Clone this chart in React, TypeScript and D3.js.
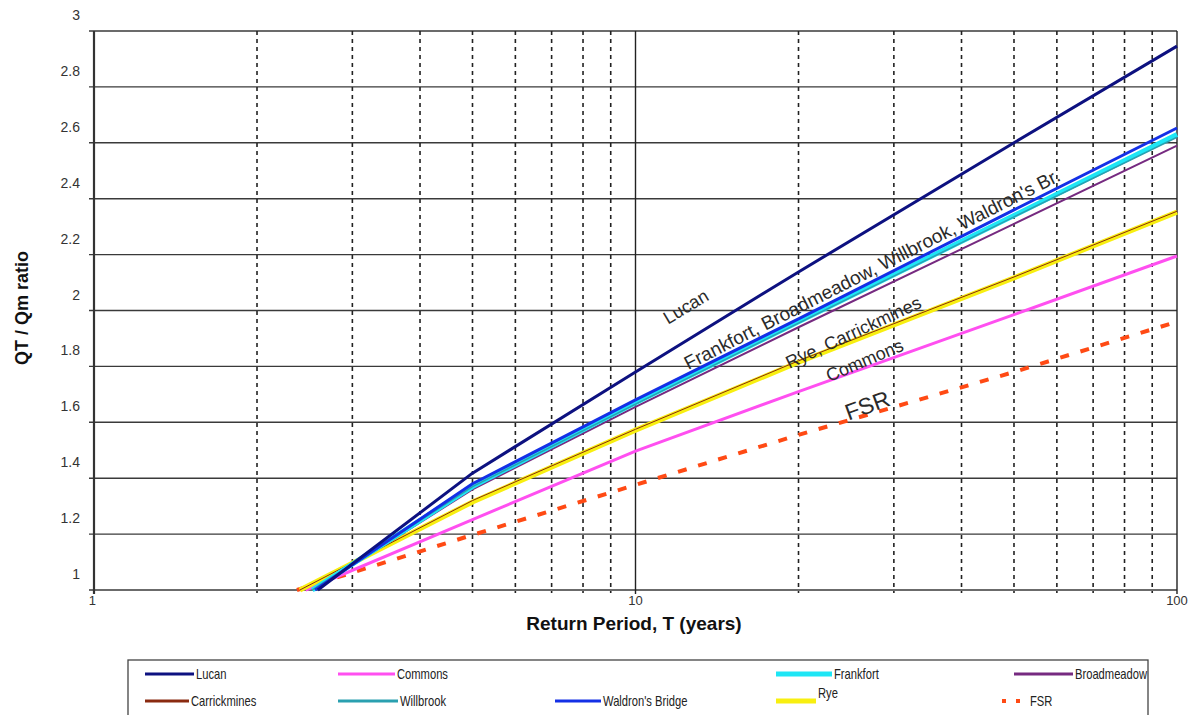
import React from "react";
import * as d3 from "d3";

// ---- data ----
const returnPeriods = [5, 10, 20, 50, 100];
const seriesNames = ["Lucan", "Commons", "Frankfort", "Broadmeadow", "Carrickmines", "Willbrook", "Waldron's Bridge", "Rye", "FSR"];
const startPeriods = [2.59, 2.46, 2.53, 2.54, 2.4, 2.53, 2.56, 2.4, 2.37];
const lucan = [1.418, 1.78, 2.138, 2.6, 2.946];
const commons = [1.252, 1.497, 1.71, 1.985, 2.195];
const frankfort = [1.37, 1.67, 1.96, 2.34, 2.63];
const broadmeadow = [1.36, 1.655, 1.94, 2.31, 2.59];
const carrickmines = [1.32, 1.575, 1.82, 2.12, 2.355];
const willbrook = [1.37, 1.665, 1.955, 2.335, 2.62];
const waldrons = [1.38, 1.68, 1.97, 2.36, 2.653];
const rye = [1.315, 1.572, 1.815, 2.117, 2.352];
const fsr = [1.197, 1.376, 1.555, 1.78, 1.96];
const seriesValues = [lucan, commons, frankfort, broadmeadow, carrickmines, willbrook, waldrons, rye, fsr];

const yTicks = [1, 1.2, 1.4, 1.6, 1.8, 2, 2.2, 2.4, 2.6, 2.8, 3];
const xMajor = [1, 10, 100];
const xMinor = [2, 3, 4, 5, 6, 7, 8, 9, 20, 30, 40, 50, 60, 70, 80, 90];

// styles
const styles: Record<string, { color: string; width: number; dash?: string }> = {
  Lucan: { color: "#0d1180", width: 3 },
  Commons: { color: "#ff4ff0", width: 3 },
  Frankfort: { color: "#1ee6f5", width: 5 },
  Broadmeadow: { color: "#762a80", width: 2 },
  Carrickmines: { color: "#8a2a10", width: 1 },
  Willbrook: { color: "#2aa0b0", width: 1.5 },
  "Waldron's Bridge": { color: "#1430e6", width: 3 },
  Rye: { color: "#f8ef10", width: 5 },
  FSR: { color: "#ff4a14", width: 4, dash: "9,12" },
};
const drawOrder = ["FSR", "Commons", "Rye", "Carrickmines", "Broadmeadow", "Frankfort", "Willbrook", "Waldron's Bridge", "Lucan"];

export default function App() {
  const x = d3.scaleLog().domain([1, 100]).range([94, 1177]);
  const y = d3.scaleLinear().domain([1, 3]).range([590, 31]);
  const line = d3
    .line<[number, number]>()
    .x((d) => x(d[0]))
    .y((d) => y(d[1]));

  const seriesPts = (name: string): [number, number][] => {
    const i = seriesNames.indexOf(name);
    const pts: [number, number][] = [[startPeriods[i], 1]];
    returnPeriods.forEach((t, k) => pts.push([t, seriesValues[i][k]]));
    return pts;
  };

  const font = "Arial, 'Liberation Sans', sans-serif";

  const legendItems = [
    { name: "Lucan", lx: 145, tx: 196, row: 0 },
    { name: "Commons", lx: 338, tx: 397, row: 0 },
    { name: "Frankfort", lx: 776, tx: 834, row: 0 },
    { name: "Broadmeadow", lx: 1014, tx: 1075, row: 0 },
    { name: "Carrickmines", lx: 145, tx: 191, row: 1 },
    { name: "Willbrook", lx: 338, tx: 400, row: 1 },
    { name: "Waldron's Bridge", lx: 555, tx: 603, row: 1 },
    { name: "Rye", lx: 776, tx: 818, row: 1 },
    { name: "FSR", lx: 1002, tx: 1030, row: 1 },
  ];

  return (
    <svg width={1194} height={715} style={{ position: "absolute", left: 0, top: 0, background: "#fff" }} fontFamily={font}>
      {/* horizontal grid */}
      {yTicks.map((v) => (
        <line key={"h" + v} x1={x(1) - 5} x2={x(100)} y1={y(v)} y2={y(v)} stroke="#3a3a3a" strokeWidth={1.4} />
      ))}
      {/* minor vertical dashed grid */}
      {xMinor.map((t) => (
        <line key={"m" + t} x1={x(t)} x2={x(t)} y1={y(3)} y2={y(1) + 3} stroke="#222" strokeWidth={1.6} strokeDasharray="4,4" />
      ))}
      {/* major vertical */}
      {xMajor.map((t) => (
        <line key={"M" + t} x1={x(t)} x2={x(t)} y1={y(3)} y2={y(1) + 4} stroke={t === 1 ? "#333" : "#222"} strokeWidth={t === 1 ? 2.2 : 1.4} />
      ))}
      {/* y labels */}
      {yTicks.map((v) => (
        <text key={"yl" + v} x={80} y={y(v) - 11} textAnchor="end" fontSize={14} fill="#333">
          {d3.format("~g")(v)}
        </text>
      ))}
      {/* x labels */}
      {xMajor.map((t) => (
        <text key={"xl" + t} x={x(t)} y={605} textAnchor={t === 1 ? "end" : "middle"} fontSize={13} fill="#333" dx={t === 1 ? 2 : 0}>
          {t}
        </text>
      ))}
      {/* axis titles */}
      <text x={634} y={630} textAnchor="middle" fontSize={19} fontWeight="bold" fill="#111">
        Return Period, T (years)
      </text>
      <text transform="translate(28,308) rotate(-90)" textAnchor="middle" fontSize={18} fontWeight="bold" fill="#111">
        QT / Qm ratio
      </text>

      {/* series */}
      {drawOrder.map((name) => {
        const s = styles[name];
        return (
          <path
            key={name}
            d={line(seriesPts(name)) || ""}
            fill="none"
            stroke={s.color}
            strokeWidth={s.width}
            strokeDasharray={s.dash}
            strokeLinejoin="round"
          />
        );
      })}

      {/* inline labels */}
      <g fill="#2a2a2a" fontSize={18}>
        <text transform="translate(689,312) rotate(-31)" textAnchor="middle">Lucan</text>
        <text transform="translate(875,275) rotate(-27)" textAnchor="middle" fontSize={19}>Frankfort, Broadmeadow, Willbrook, Waldron's Br.</text>
        <text transform="translate(856,338) rotate(-25)" textAnchor="middle">Rye, Carrickmines</text>
        <text transform="translate(867,366) rotate(-23)" textAnchor="middle">Commons</text>
        <text transform="translate(870,413) rotate(-20)" textAnchor="middle" fontSize={23}>FSR</text>
      </g>

      {/* legend */}
      <rect x={128} y={660} width={1020} height={70} fill="#fff" stroke="#444" strokeWidth={1.3} />
      {legendItems.map((it) => {
        const s = styles[it.name];
        const ly = it.row === 0 ? 674 : 701;
        const isFsr = it.name === "FSR";
        return (
          <g key={"lg" + it.name}>
            <line
              x1={it.lx}
              x2={it.tx - 2}
              y1={ly}
              y2={ly}
              stroke={s.color}
              strokeWidth={isFsr ? 4 : Math.max(3, s.width)}
              strokeDasharray={isFsr ? "4,10" : undefined}
            />
            <text
              transform={`translate(${it.tx},${it.name === "Rye" ? ly - 3 : ly + 5}) scale(0.8,1)`}
              fontSize={14}
              fill="#222"
            >
              {it.name}
            </text>
          </g>
        );
      })}
    </svg>
  );
}
